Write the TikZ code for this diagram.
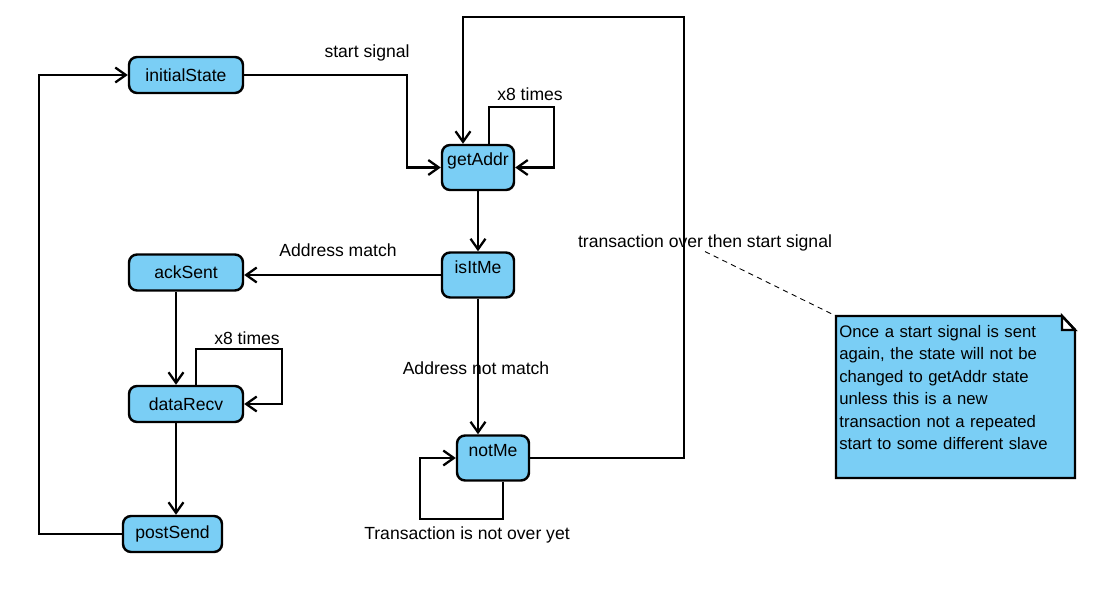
\documentclass[tikz,border=0pt]{standalone}
\usepackage{fontspec}
\setmainfont{Liberation Sans}
\usetikzlibrary{arrows.meta,calc}
\definecolor{stateblue}{RGB}{122,206,245}
\tikzset{
  state/.style={draw, line width=1.4pt, fill=stateblue, rounded corners=0.16cm,
    minimum height=0.72cm, inner sep=0pt, font=\fontsize{10}{12}\selectfont},
  tallstate/.style={state, minimum width=1.44cm, minimum height=0.9cm,
    text height=0.32cm, text depth=0.38cm, inner ysep=0.1cm},
  trans/.style={line width=1.3pt, -{Straight Barb[length=6pt,width=8.5pt]}},
  lbl/.style={font=\fontsize{10}{12}\selectfont, inner sep=0pt},
  notetext/.style={font=\fontsize{9.5}{12.8}\selectfont, inner sep=0pt,
    text width=4.7cm, align=left}
}
\begin{document}
\begin{tikzpicture}[x=0.02cm, y=-0.02cm]
  \useasboundingbox (0,0) rectangle (1099,591);

  % states
  \node[state, minimum width=2.28cm] (initialState) at (186,75) {initialState};
  \node[tallstate] (getAddr) at (478,167.5) {getAddr};
  \node[tallstate] (isItMe) at (478,275) {isItMe};
  \node[state, minimum width=2.28cm] (ackSent) at (186,272.5) {ackSent};
  \node[state, minimum width=2.28cm] (dataRecv) at (186,404) {dataRecv};
  \node[state, minimum width=1.98cm] (postSend) at (172.5,534) {postSend};
  \node[tallstate] (notMe) at (493,458) {notMe};

  % labels
  \node[lbl] (lblStart) at (367,53) {start signal};
  \node[lbl] (lblLoopA) at (530,94) {x8 times};
  \node[lbl] (lblTrans) at (705,243) {transaction over then start signal};
  \node[lbl] (lblMatch) at (338,250) {Address match};
  \node[lbl] (lblNoMatch) at (476,368) {Address not match};
  \node[lbl] (lblLoopB) at (247,338) {x8 times};
  \node[lbl] (lblNotOver) at (467,535) {Transaction is not over yet};

  % transitions
  \draw[trans] (initialState.east) -| ($(getAddr.west)+(-34,0)$) -- (getAddr.west);
  \draw[trans] ([xshift=0.22cm]getAddr.north) -- ++(0,-37)
               -| ($(getAddr.east)+(39,0)$) -- (getAddr.east);
  \draw[trans] (getAddr.south) -- (isItMe.north);
  \draw[trans] (isItMe.west) -- (isItMe.west -| ackSent.east);
  \draw[trans] (isItMe.south) -- (isItMe.south |- notMe.north);
  \draw[trans] ([xshift=-0.2cm]ackSent.south) -- ([xshift=-0.2cm]dataRecv.north);
  \draw[trans] ([xshift=0.2cm]dataRecv.north) -- ++(0,-36)
               -| ($(dataRecv.east)+(38,0)$) -- (dataRecv.east);
  \draw[trans] ([xshift=-0.2cm]dataRecv.south) -- ([xshift=-0.2cm]dataRecv.south |- postSend.north);
  \draw[trans] (postSend.west) -| ($(initialState.west)+(-89,0)$) -- (initialState.west);
  \draw[trans] ([xshift=0.2cm]notMe.south) -- ++(0,37)
               -| ($(notMe.west)+(-36,0)$) -- (notMe.west);
  \draw[trans] (notMe.east) -| ($(getAddr.north)+(206,-127)$)
               -| ([xshift=-0.3cm]getAddr.north);

  % note
  \coordinate (noteNW) at (836,316);
  \coordinate (noteSE) at (1075,478);
  \draw[line width=1.4pt, fill=stateblue] (noteNW) -- (1062,316) -- (1075,330)
       -- (noteSE) -- (836,478) -- cycle;
  \draw[line width=1.4pt, fill=white] (1062,316) -- (1062,330) -- (1075,330) -- cycle;
  \node[notetext, anchor=north west] (note) at (839,325)
    {Once a start signal is sent\\ again, the state will not be\\ changed to getAddr state\\
     unless this is a new\\ transaction not a repeated\\ start to some different slave};
  \draw[line width=0.5pt, dash pattern=on 3pt off 2.5pt] (lblTrans.south) -- (noteNW);
\end{tikzpicture}
\end{document}
